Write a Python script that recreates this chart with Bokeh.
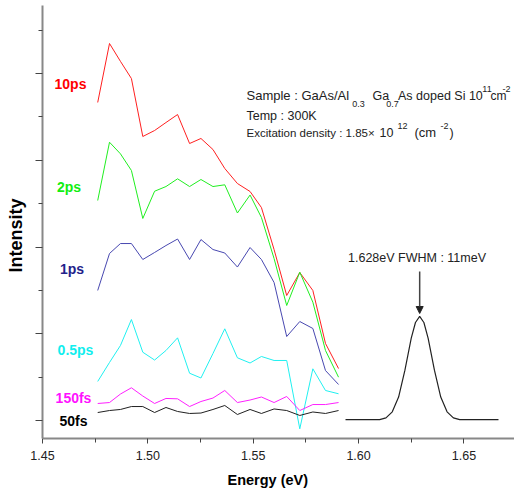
import math
from bokeh.plotting import figure
from bokeh.models import (Range1d, FixedTicker, NumeralTickFormatter, CustomJSTickFormatter,
                          Label, Arrow, NormalHead, Title)
from bokeh.embed import file_html
from bokeh.resources import INLINE

# ---------------- data ----------------
energy = [1.4762, 1.4818, 1.4870, 1.4922, 1.4976, 1.5032, 1.5086, 1.5141, 1.5198, 1.5252,
          1.5309, 1.5365, 1.5425, 1.5485, 1.5539, 1.5599, 1.5659, 1.5721, 1.5783, 1.5843, 1.5905]

ps10 = [3.666, 4.346, 4.140, 3.942, 3.274, 3.343, 3.435, 3.527, 3.193, 3.251,
        3.124, 2.905, 2.732, 2.640, 2.455, 1.971, 1.441, 1.706, 1.499, 0.888, 0.599]
ps2 = [2.536, 3.208, 3.074, 2.882, 2.329, 2.643, 2.697, 2.786, 2.697, 2.778,
       2.697, 2.717, 2.392, 2.599, 2.340, 1.867, 1.326, 1.709, 1.364, 0.807, 0.499]
ps1 = [1.499, 1.925, 2.040, 2.040, 1.856, 1.937, 2.017, 2.092, 1.856, 2.086,
       1.971, 1.931, 1.769, 1.994, 1.856, 1.591, 0.968, 1.141, 1.061, 0.576, 0.415]
ps05 = [0.450, 0.669, 0.865, 1.164, 0.787, 0.697, 0.807, 0.953, 0.545, 0.490,
        0.772, 1.057, 0.723, 0.663, 0.738, 0.692, 0.692, -0.096, 0.596, 0.346, 0.308]
fs150 = [0.196, 0.207, 0.305, 0.377, 0.282, 0.196, 0.254, 0.250, 0.161, 0.219,
         0.259, 0.346, 0.207, 0.236, 0.271, 0.207, 0.277, 0.115, 0.184, 0.184, 0.207]
fs50 = [0.092, 0.115, 0.127, 0.161, 0.161, 0.092, 0.150, 0.104, 0.081, 0.086,
        0.127, 0.173, 0.069, 0.127, 0.081, 0.133, 0.115, 0.058, 0.098, 0.081, 0.115]

peak_energy = [1.5938, 1.610, 1.613, 1.616, 1.619, 1.622, 1.625, 1.627, 1.629, 1.631,
               1.633, 1.636, 1.639, 1.642, 1.645, 1.648, 1.6664]
peak_int = [0.01, 0.01, 0.03, 0.10, 0.27, 0.58, 0.95, 1.13, 1.20, 1.13,
            0.95, 0.58, 0.27, 0.10, 0.03, 0.01, 0.01]

series_names = ["10ps", "2ps", "1ps", "0.5ps", "150fs", "50fs"]
series_values = [ps10, ps2, ps1, ps05, fs150, fs50]
line_colors = ["#ff2020", "#20ee20", "#4848b0", "#20f0f0", "#ff20ff", "#202020"]
label_colors = ["#ff0000", "#11ee11", "#22228a", "#11eeee", "#ff11ff", "#000000"]

x_ticks = [1.45, 1.50, 1.55, 1.60, 1.65]
x_minor = [1.475, 1.525, 1.575, 1.625]
y_ticks = [0, 1, 2, 3, 4]
y_minor = [0.5, 1.5, 2.5, 3.5, 4.5]

# ---------------- figure ----------------
p = figure(width=514, height=494, x_range=Range1d(1.45, 1.674), y_range=Range1d(-0.2075, 4.784),
           output_backend="svg", toolbar_location=None,
           min_border_left=42, min_border_right=0, min_border_top=5, min_border_bottom=56)
p.grid.visible = False
p.outline_line_color = None
p.background_fill_color = "white"
p.border_fill_color = "white"

FONT = "Liberation Sans"

xa = p.xaxis[0]
xa.ticker = FixedTicker(ticks=x_ticks, minor_ticks=x_minor)
xa.formatter = NumeralTickFormatter(format="0.00")
xa.axis_line_color = "#888888"
xa.axis_line_width = 2
xa.major_tick_line_color = "#444444"
xa.minor_tick_line_color = "#444444"
xa.major_tick_out = 5
xa.major_tick_in = 0
xa.minor_tick_out = 4
xa.minor_tick_in = 0
xa.major_label_text_font = FONT
xa.major_label_text_font_size = "12.5px"
xa.major_label_text_color = "#222222"
xa.major_label_standoff = 7

ya = p.yaxis[0]
ya.ticker = FixedTicker(ticks=y_ticks, minor_ticks=y_minor)
ya.formatter = CustomJSTickFormatter(code="return ' '")
ya.axis_line_color = "#888888"
ya.axis_line_width = 2
ya.major_tick_line_color = "#444444"
ya.minor_tick_line_color = "#444444"
ya.major_tick_out = 7
ya.major_tick_in = 0
ya.minor_tick_out = 4
ya.minor_tick_in = 0
ya.major_label_text_font = FONT
ya.major_label_text_font_size = "12px"
ya.major_label_standoff = 2

# axis titles as side titles (so they can sit outside the frame)
p.add_layout(Title(text="Energy (eV)", align="left", offset=185, text_font=FONT,
                   text_font_size="14.5px", text_font_style="bold", text_color="#000000",
                   standoff=14), "below")
p.add_layout(Title(text="Intensity", align="left", offset=166, text_font=FONT,
                   text_font_size="18px", text_font_style="bold", text_color="#000000",
                   standoff=4), "left")

for ys, col in zip(series_values, line_colors):
    p.line(energy, ys, line_color=col, line_width=1)

p.line(peak_energy, peak_int, line_color="#222222", line_width=1.2)


def X(px):
    return 1.45 + (px - 42) / 2107.1


def Y(py):
    return (420 - py) / 86.75


def lab(text, px, py, size="12.5px", align="left", color="#222222", bold=False, angle=0.0,
        baseline="middle"):
    p.add_layout(Label(x=X(px), y=Y(py), text=text, text_font=FONT, text_font_size=size,
                       text_align=align, text_baseline=baseline, text_color=color,
                       text_font_style="bold" if bold else "normal", angle=angle))


# series labels
label_pos = [(70, 83), (68.5, 186), (71.5, 268), (75, 349), (73, 397), (73, 421)]
for name, col, (px, py) in zip(series_names, label_colors, label_pos):
    lab(name, px, py, size="14px", align="center", color=col, bold=True)

# sample description
SUB = "9px"
lab("Sample : GaAs/Al", 246, 95, size="13px")
lab("0.3", 358, 103, size=SUB, align="center")
lab("Ga", 372, 95)
lab("0.7", 392, 103, size=SUB, align="center")
lab("As doped Si 10", 397.5, 95)
lab("11", 486.5, 88, size=SUB, align="center")
lab("cm", 490, 95, size="12px")
lab("-2", 506, 88, size=SUB, align="center")
lab("Temp : 300K", 246, 115)
lab("Excitation density : 1.85\u00d7", 246, 132, size="11.5px")
lab("10", 379, 132)
lab("12", 402, 125, size=SUB, align="center")
lab("(cm", 414, 132, size="13px")
lab("-2", 444, 125, size=SUB, align="center")
lab(")", 449, 132)

# peak annotation
lab("1.628eV FWHM : 11meV", 416.5, 257, align="center")
p.add_layout(Arrow(end=NormalHead(size=7, fill_color="#222222", line_color="#222222"),
                   x_start=1.629, y_start=Y(271), x_end=1.629, y_end=Y(313),
                   line_color="#444444", line_width=1.5))

open("out.html", "w").write(file_html(p, INLINE))
